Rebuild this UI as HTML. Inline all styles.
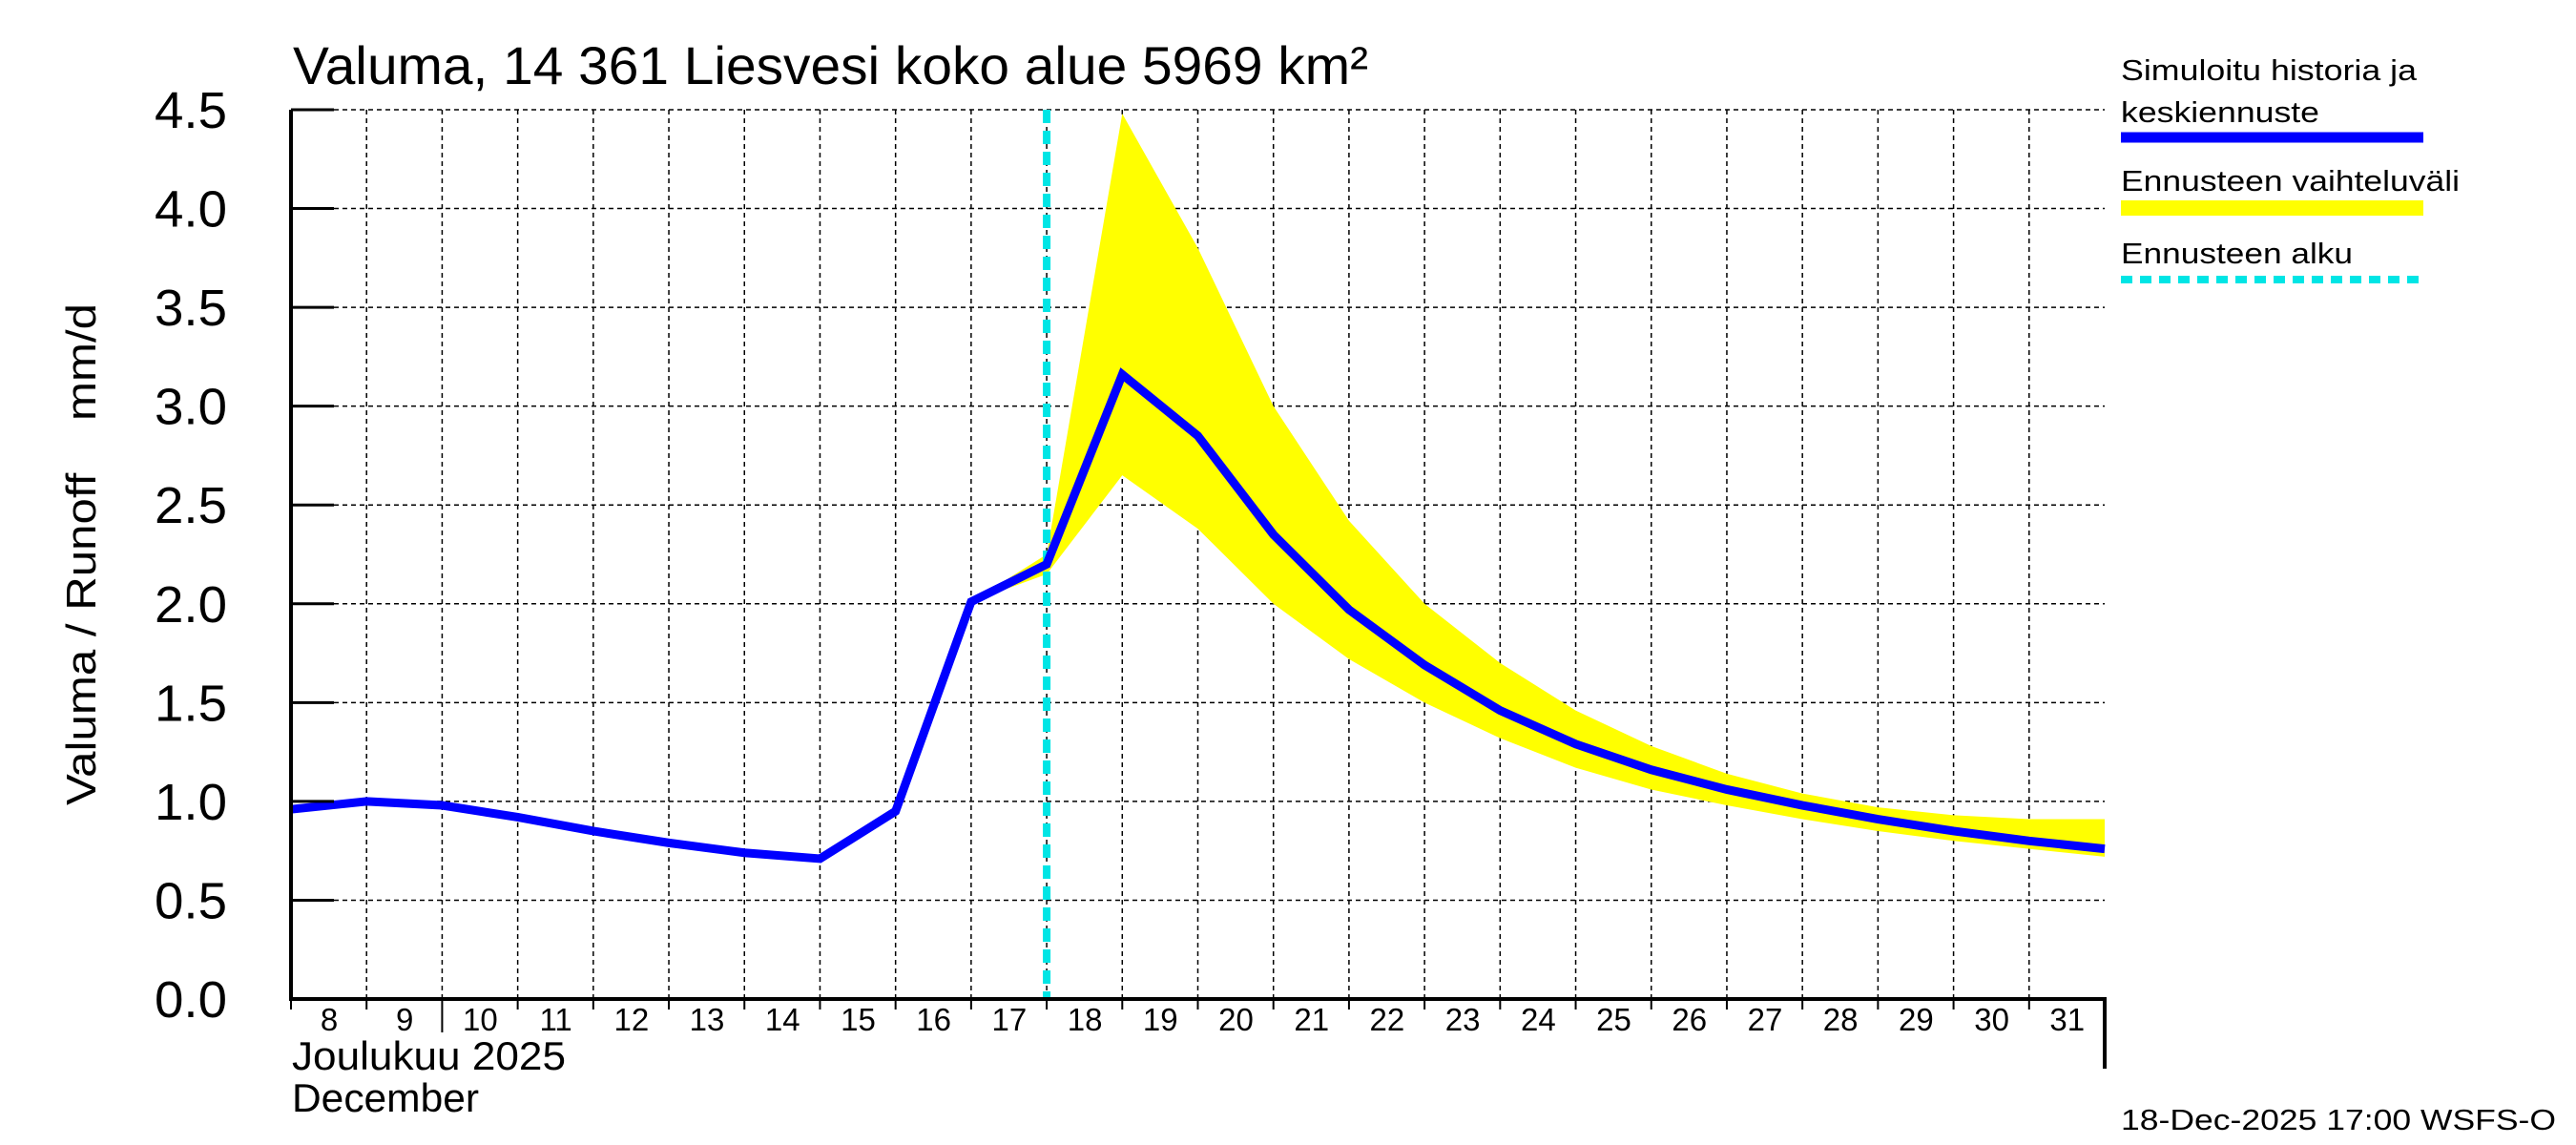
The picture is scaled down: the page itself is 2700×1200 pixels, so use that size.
<!DOCTYPE html>
<html><head><meta charset="utf-8"><style>
html,body{margin:0;padding:0;background:#fff;}
svg{display:block;font-family:"Liberation Sans",Arial,sans-serif;}
</style></head><body>
<svg id="chart" width="2700" height="1200" viewBox="0 0 2700 1200" xmlns="http://www.w3.org/2000/svg">
<g id="grid"></g>
<g id="band"></g>
<g id="series"></g>
<g id="axes"></g>
<text x="307" y="88" font-size="56" textLength="1127" lengthAdjust="spacingAndGlyphs">Valuma, 14 361 Liesvesi koko alue 5969 km²</text>
<text transform="translate(100,581) rotate(-90)" text-anchor="middle" font-size="44" textLength="526" lengthAdjust="spacingAndGlyphs" xml:space="preserve">Valuma / Runoff    mm/d</text>
<g>
<text x="2223" y="84" font-size="31" textLength="310" lengthAdjust="spacingAndGlyphs">Simuloitu historia ja</text>
<text x="2223" y="128" font-size="31" textLength="208" lengthAdjust="spacingAndGlyphs">keskiennuste</text>
<line x1="2223" y1="144" x2="2540" y2="144" stroke="#0000ff" stroke-width="11"/>
<text x="2223" y="200" font-size="31" textLength="355" lengthAdjust="spacingAndGlyphs">Ennusteen vaihteluväli</text>
<line x1="2223" y1="218" x2="2540" y2="218" stroke="#ffff00" stroke-width="16"/>
<text x="2223" y="276" font-size="31" textLength="243" lengthAdjust="spacingAndGlyphs">Ennusteen alku</text>
<line x1="2223" y1="293" x2="2540" y2="293" stroke="#00e5e5" stroke-width="8" stroke-dasharray="12,8"/>
</g>
<text x="306" y="1121" font-size="42" textLength="287" lengthAdjust="spacingAndGlyphs">Joulukuu  2025</text>
<text x="306" y="1165" font-size="42" textLength="196" lengthAdjust="spacingAndGlyphs">December</text>
<text x="2223" y="1184" font-size="31" textLength="456" lengthAdjust="spacingAndGlyphs">18-Dec-2025 17:00 WSFS-O</text>
</svg>
<script>
const days=[8,9,10,11,12,13,14,15,16,17,18,19,20,21,22,23,24,25,26,27,28,29,30,31,32];
const runoff=[0.96,1.0,0.98,0.92,0.85,0.79,0.74,0.71,0.95,2.01,2.2,3.16,2.85,2.35,1.97,1.69,1.46,1.29,1.16,1.06,0.98,0.91,0.85,0.80,0.76];
const bandDays=[17,18,19,20,21,22,23,24,25,26,27,28,29,30,31,32];
const bandUpper=[2.01,2.25,4.48,3.8,3.0,2.42,2.0,1.7,1.46,1.28,1.14,1.04,0.97,0.93,0.91,0.91];
const bandLower=[2.01,2.15,2.65,2.38,2.0,1.72,1.5,1.32,1.17,1.06,0.98,0.91,0.85,0.80,0.76,0.72];
const yTicks=[0,0.5,1,1.5,2,2.5,3,3.5,4,4.5];
const yTickLabels=["0.0","0.5","1.0","1.5","2.0","2.5","3.0","3.5","4.0","4.5"];
const dayLabels=[8,9,10,11,12,13,14,15,16,17,18,19,20,21,22,23,24,25,26,27,28,29,30,31];
const forecastStart=[18];

const X0=305,X1=2206,Y0=1047,Y1=115,DMIN=8,DMAX=32,VMAX=4.5;
const sx=d=>X0+(d-DMIN)/(DMAX-DMIN)*(X1-X0);
const sy=v=>Y0-v/VMAX*(Y0-Y1);
const NS="http://www.w3.org/2000/svg";
function mk(tag,parent,attrs){const e=document.createElementNS(NS,tag);for(const k in attrs)e.setAttribute(k,attrs[k]);parent.appendChild(e);return e;}
const grid=document.getElementById('grid'),band=document.getElementById('band'),series=document.getElementById('series'),axes=document.getElementById('axes');

for(let d=DMIN+1;d<DMAX;d++){
  const l=mk('line',grid,{x1:sx(d),y1:Y1,x2:sx(d),y2:Y0,stroke:'#000','stroke-width':1.5,'stroke-dasharray':'5,4'});
  
  
}
yTicks.forEach((v,i)=>{
  if(v>0){const l=mk('line',grid,{x1:X0,y1:sy(v),x2:X1,y2:sy(v),stroke:'#000','stroke-width':1.5,'stroke-dasharray':'5,4'});
  
  }
  const t=mk('line',axes,{x1:X0,y1:sy(v),x2:X0+45,y2:sy(v),stroke:'#000','stroke-width':3});
  
  
  const tx=mk('text',axes,{x:238,y:sy(v)+19,'text-anchor':'end','font-size':54,textLength:76,lengthAdjust:'spacingAndGlyphs'});
  tx.textContent=yTickLabels[i];
  
  
});

let pts=bandDays.map((d,i)=>sx(d)+','+sy(bandUpper[i]));
for(let i=bandDays.length-1;i>=0;i--)pts.push(sx(bandDays[i])+','+sy(bandLower[i]));
const poly=mk('polygon',band,{points:pts.join(' '),fill:'#ffff00'});



const fs=mk('line',series,{x1:sx(forecastStart[0]),y1:Y1,x2:sx(forecastStart[0]),y2:Y0,stroke:'#00e5e5','stroke-width':8,'stroke-dasharray':'14,8'});



const pl=mk('polyline',series,{points:days.map((d,i)=>sx(d)+','+sy(runoff[i])).join(' '),fill:'none',stroke:'#0000ff','stroke-width':9,'stroke-linejoin':'miter'});



const ax=mk('path',axes,{d:`M${X0},${Y1} V${Y0} H${X1} V1120`,fill:'none',stroke:'#000','stroke-width':4});


for(let d=DMIN;d<DMAX;d++){
  const t=mk('line',axes,{x1:sx(d),y1:Y0,x2:sx(d),y2:d===10?1082:1058,stroke:'#000','stroke-width':2});
  
  
}
dayLabels.forEach(d=>{
  const t=mk('text',axes,{x:sx(d)+40,y:1080,'text-anchor':'middle','font-size':33});
  t.textContent=d;
  
  
});
</script>
</body></html>
